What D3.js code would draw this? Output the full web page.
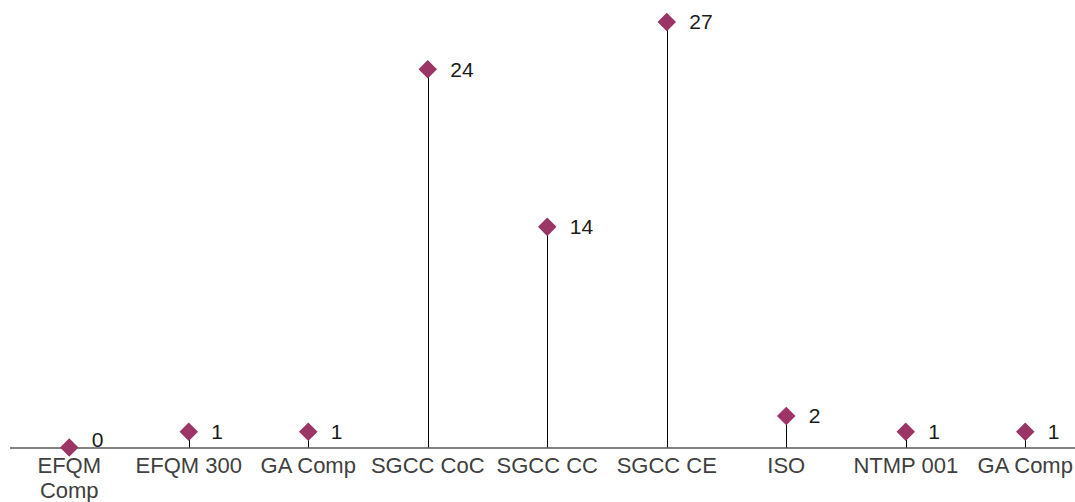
<!DOCTYPE html>
<html><head><meta charset="utf-8">
<script src="https://cdn.jsdelivr.net/npm/d3@7"></script>
<style>body{margin:0;background:#fff}svg{display:block}</style>
</head><body>
<svg id="chart" width="1075" height="502"></svg>
<script>
const categories = ["EFQM Comp","EFQM 300","GA Comp","SGCC CoC","SGCC CC","SGCC CE","ISO","NTMP 001","GA Comp"];
const values = [0,1,1,24,14,27,2,1,1];

const W = 1075, H = 502;
const svg = d3.select("#chart");
const baseY = 447.5;
const x = d3.scaleBand().domain(d3.range(categories.length)).range([9.5, 1085]).padding(0);
const y = d3.scaleLinear().domain([0, 27]).range([baseY, 22]);
const color = "#9a3566";

// axis
const axis = d3.axisBottom(x).tickSize(0).tickFormat(i => categories[i]);
const gx = svg.append("g").attr("transform", `translate(0,${baseY})`).call(axis);
gx.select(".domain").attr("d", `M10,0.5H1075`).attr("stroke", "#595959").attr("stroke-width", 1.3);
gx.selectAll("text").attr("font-family", "Liberation Sans, Arial, sans-serif")
  .attr("font-size", 22).attr("fill", "#404040").attr("dy", null).attr("y", 25.5)
  .each(function(i) {
    const t = d3.select(this);
    const words = categories[i].split(" ");
    t.text(words.join(" "));
    if (this.getComputedTextLength() > x.bandwidth() - 2) {
      t.text(null);
      let line = [], lines = [];
      words.forEach(w => {
        line.push(w);
        t.text(line.join(" "));
        if (this.getComputedTextLength() > x.bandwidth() - 2 && line.length > 1) {
          line.pop(); lines.push(line.join(" ")); line = [w];
        }
        t.text(null);
      });
      lines.push(line.join(" "));
      lines.forEach((l, k) => t.append("tspan").attr("x", 0).attr("dy", k === 0 ? 0 : 25).text(l));
    }
  });

const g = svg.append("g");
// stems
g.selectAll("line.stem").data(values).join("line")
  .attr("x1", (d, i) => Math.round(x(i) + x.bandwidth() / 2) + 0.5)
  .attr("x2", (d, i) => Math.round(x(i) + x.bandwidth() / 2) + 0.5)
  .attr("y1", baseY).attr("y2", d => y(d))
  .attr("stroke", "#000").attr("stroke-width", 1);
// markers
g.selectAll("path.mk").data(values).join("path")
  .attr("d", d3.symbol(d3.symbolSquare, 172)())
  .attr("transform", (d, i) => `translate(${x(i) + x.bandwidth() / 2},${y(d)}) rotate(45)`)
  .attr("fill", color);
// labels
g.selectAll("text.lb").data(values).join("text")
  .attr("x", (d, i) => x(i) + x.bandwidth() / 2 + 22.5)
  .attr("y", d => Math.min(y(d), baseY - 8))
  .attr("dy", "0.35em")
  .attr("font-family", "Liberation Sans, Arial, sans-serif")
  .attr("font-size", 21).attr("fill", "#1a1a1a")
  .text(d => d);
</script>
</body></html>
